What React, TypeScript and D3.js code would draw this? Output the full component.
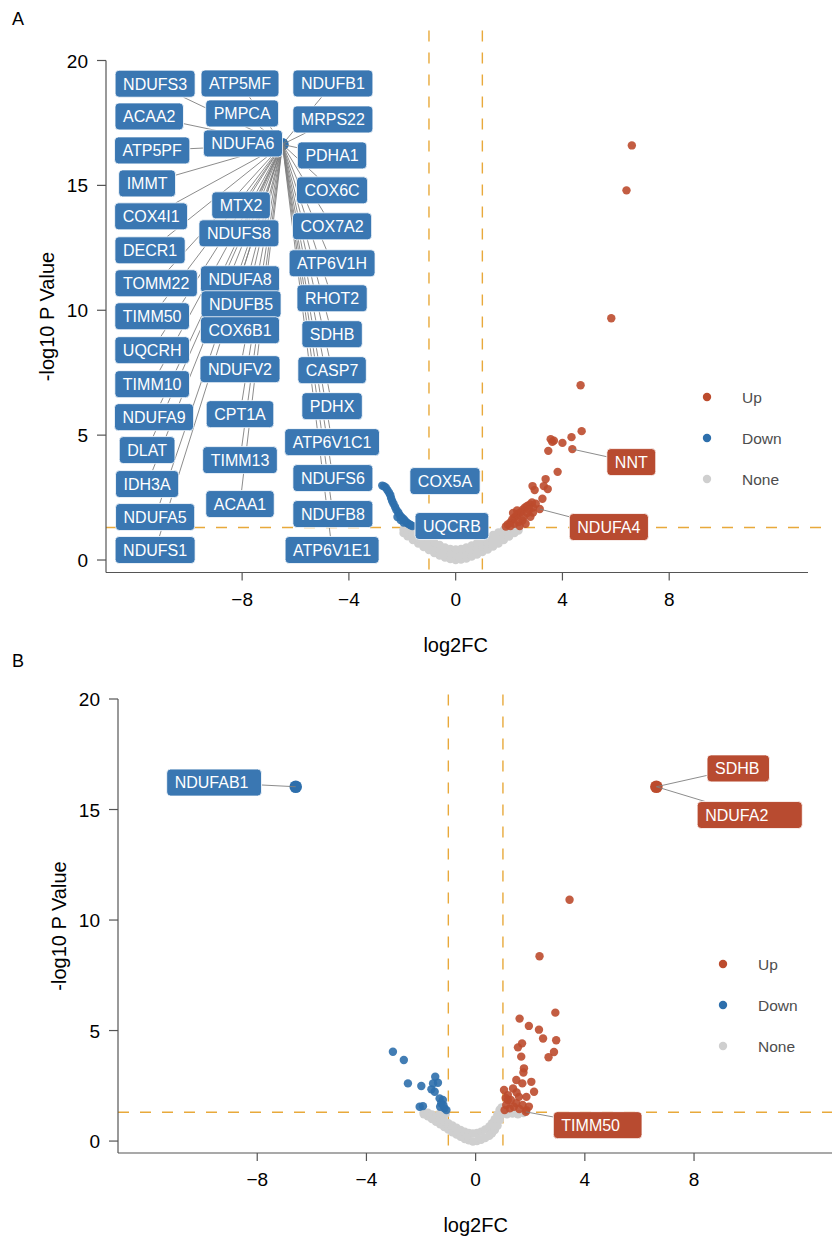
import React from "react";
import * as d3 from "d3";

type Pt = [number, number];

const FONT = "'Liberation Sans', Arial, Helvetica, sans-serif";
const RED = "#BC4B2D";
const BLUE = "#2D6FAC";
const GREY = "#CFCFCF";
const LABEL_BLUE = "#3A77B2";
const LABEL_RED = "#B84B30";
const DASH = "#E8A93B";

const xTicks = [-8, -4, 0, 4, 8];
const yTicks = [0, 5, 10, 15, 20];
const legendItems = ["Up", "Down", "None"];

// ---- panel A values (log2FC, -log10 P) ----
const aNone: Pt[] = [
  [-1.95, 1.08], [-1.95, 1.22], [-1.8, 0.95], [-1.8, 1.1], [-1.8, 1.24],
  [-1.6, 0.8], [-1.6, 0.98], [-1.6, 1.16], [-1.4, 0.66], [-1.4, 0.86], [-1.4, 1.06],
  [-1.2, 0.52], [-1.2, 0.74], [-1.2, 0.96], [-1.0, 0.4], [-1.0, 0.6], [-1.0, 0.82],
  [-0.8, 0.28], [-0.8, 0.48], [-0.8, 0.7], [-0.6, 0.18], [-0.6, 0.38], [-0.6, 0.6],
  [-0.4, 0.1], [-0.4, 0.3], [-0.4, 0.5], [-0.2, 0.04], [-0.2, 0.24], [-0.2, 0.44],
  [0.0, 0.0], [0.0, 0.2], [0.0, 0.42], [0.2, 0.02], [0.2, 0.22], [0.2, 0.44],
  [0.4, 0.06], [0.4, 0.28], [0.4, 0.5], [0.6, 0.14], [0.6, 0.36], [0.6, 0.58],
  [0.8, 0.22], [0.8, 0.44], [0.8, 0.68], [1.0, 0.32], [1.0, 0.55], [1.0, 0.8],
  [1.2, 0.42], [1.2, 0.66], [1.2, 0.9], [1.4, 0.54], [1.4, 0.78], [1.4, 1.0],
  [1.6, 0.66], [1.6, 0.9], [1.6, 1.1], [1.8, 0.8], [1.8, 1.02], [1.8, 1.2],
  [2.0, 0.94], [2.0, 1.12], [2.0, 1.26], [2.2, 1.08], [2.2, 1.22], [2.35, 1.18], [2.35, 1.26],
];
const aDown: Pt[] = [
  [-2.75, 2.98], [-2.68, 2.95], [-2.62, 2.9], [-2.56, 2.8], [-2.5, 2.7], [-2.45, 2.6],
  [-2.42, 2.48], [-2.38, 2.36], [-2.33, 2.25], [-2.27, 2.12], [-2.22, 2.0], [-2.15, 1.9],
  [-2.1, 1.8], [-2.04, 1.72], [-1.98, 1.66], [-1.92, 1.6], [-1.86, 1.52], [-1.8, 1.47],
  [-1.74, 1.43], [-1.68, 1.39], [-1.62, 1.36], [-2.18, 1.72], [-2.06, 1.6], [-1.95, 1.5],
];
const aUp: Pt[] = [
  [6.6, 16.6], [6.4, 14.8], [5.83, 9.68], [4.68, 7.0], [4.72, 5.16], [4.34, 4.92],
  [4.0, 4.69], [3.62, 4.73], [3.56, 4.84], [3.68, 4.78], [3.47, 4.37], [4.37, 4.44],
  [3.82, 3.53], [3.37, 3.24], [3.3, 2.96], [2.88, 2.96], [3.45, 2.84], [3.25, 2.45],
  [2.96, 2.8], [3.15, 2.04], [1.88, 1.34], [1.95, 1.42], [2.05, 1.5], [2.12, 1.62],
  [2.2, 1.7], [2.28, 1.78], [2.35, 1.86], [2.45, 1.92], [2.52, 2.02], [2.6, 2.1],
  [2.68, 2.16], [2.78, 2.22], [2.86, 2.3], [2.2, 1.45], [2.36, 1.52], [2.55, 1.72],
  [2.68, 1.88], [2.05, 1.36], [2.3, 1.98], [2.5, 1.58], [2.9, 2.1], [3.0, 2.25],
  [2.8, 1.73], [2.4, 1.36], [2.62, 1.45], [2.15, 1.88], [2.75, 2.0], [2.9, 1.9],
];
// genes sharing one point in panel A
const aHub: Pt = [-6.49, 16.64];
const aHubGenes = [
  "NDUFS3", "ACAA2", "ATP5PF", "IMMT", "COX4I1", "DECR1", "TOMM22", "TIMM50", "UQCRH",
  "TIMM10", "NDUFA9", "DLAT", "IDH3A", "NDUFA5", "NDUFS1", "ATP5MF", "PMPCA", "NDUFA6",
  "MTX2", "NDUFS8", "NDUFA8", "NDUFB5", "COX6B1", "NDUFV2", "CPT1A", "TIMM13", "ACAA1",
  "NDUFB1", "MRPS22", "PDHA1", "COX6C", "COX7A2", "ATP6V1H", "RHOT2", "SDHB", "CASP7",
  "PDHX", "ATP6V1C1", "NDUFS6", "NDUFB8", "ATP6V1E1",
];
const aOtherLabels: { gene: string; pt: Pt; dir: string }[] = [
  { gene: "COX5A", pt: [-1.92, 1.6], dir: "Down" },
  { gene: "UQCRB", pt: [-1.62, 1.36], dir: "Down" },
  { gene: "NNT", pt: [4.37, 4.44], dir: "Up" },
  { gene: "NDUFA4", pt: [3.15, 2.04], dir: "Up" },
];

// ---- panel B values ----
const bNone: Pt[] = [
  [-1.9, 1.22], [-1.9, 1.3], [-1.75, 1.12], [-1.75, 1.28], [-1.6, 1.0], [-1.6, 1.2],
  [-1.45, 0.88], [-1.45, 1.1], [-1.3, 0.76], [-1.3, 1.0], [-1.15, 0.64], [-1.15, 0.9],
  [-1.0, 0.52], [-1.0, 0.8], [-0.85, 0.4], [-0.85, 0.7], [-0.7, 0.3], [-0.7, 0.6],
  [-0.55, 0.2], [-0.55, 0.5], [-0.4, 0.1], [-0.4, 0.42], [-0.25, 0.04], [-0.25, 0.36],
  [-0.1, -0.02], [-0.1, 0.34], [0.05, 0.0], [0.05, 0.36], [0.2, 0.06], [0.2, 0.42],
  [0.35, 0.14], [0.35, 0.52], [0.5, 0.24], [0.5, 0.66], [0.6, 0.36], [0.6, 0.8],
  [0.7, 0.5], [0.7, 0.98], [0.8, 0.7], [0.8, 1.2], [0.88, 0.95], [0.88, 1.42],
  [0.95, 1.2], [0.95, 1.52], [1.15, 1.22], [1.35, 1.25], [1.55, 1.22], [1.75, 1.27],
  [-1.3, 1.26], [-1.1, 1.24],
];
const bDown: Pt[] = [
  [-3.03, 4.04], [-2.63, 3.67], [-2.48, 2.61], [-1.99, 2.49], [-1.48, 2.91], [-1.38, 2.64],
  [-1.62, 2.34], [-1.5, 2.23], [-1.32, 1.93], [-1.26, 1.71], [-1.14, 1.48], [-1.93, 1.58],
  [-2.05, 1.55], [-1.07, 1.4], [-1.2, 1.86], [-1.56, 2.61], [-1.3, 1.55], [-1.18, 1.62],
];
const bUp: Pt[] = [
  [3.44, 10.92], [2.34, 8.36], [2.92, 5.81], [1.61, 5.54], [1.95, 5.21], [2.32, 5.04],
  [2.47, 4.64], [2.95, 4.56], [1.7, 4.42], [1.55, 4.24], [2.87, 4.03], [1.67, 3.82],
  [2.67, 3.79], [1.77, 3.29], [1.75, 3.1], [1.49, 2.76], [2.04, 2.68], [1.71, 2.61],
  [1.04, 2.31], [1.37, 2.38], [2.14, 2.23], [1.86, 2.0], [1.18, 1.86], [1.49, 1.71],
  [1.95, 1.56], [1.86, 1.4], [1.25, 1.48], [1.12, 1.63], [1.59, 2.0], [1.18, 2.08],
  [1.06, 1.4], [1.29, 1.86], [1.72, 1.63], [1.84, 1.32], [1.4, 1.55], [1.6, 1.45],
  [1.1, 1.95], [1.5, 2.2],
];
const bBigDown: Pt = [-6.59, 16.03];
const bBigUp: Pt = [6.62, 16.03];
const bLabels: { gene: string; pt: Pt; dir: string }[] = [
  { gene: "NDUFAB1", pt: bBigDown, dir: "Down" },
  { gene: "SDHB", pt: bBigUp, dir: "Up" },
  { gene: "NDUFA2", pt: bBigUp, dir: "Up" },
  { gene: "TIMM50", pt: [1.84, 1.32], dir: "Up" },
];

// ---- label placement (repelled positions, data units) + extra box width ----
const placeA: Record<string, [number, number, number?]> = {
  NDUFS3: [-11.26, 19.07], ACAA2: [-11.48, 17.76], ATP5PF: [-11.37, 16.4],
  IMMT: [-11.56, 15.08], COX4I1: [-11.41, 13.76], DECR1: [-11.45, 12.4],
  TOMM22: [-11.22, 11.08], TIMM50: [-11.37, 9.76], UQCRH: [-11.37, 8.4],
  TIMM10: [-11.37, 7.04], NDUFA9: [-11.3, 5.72], DLAT: [-11.56, 4.4],
  IDH3A: [-11.56, 3.04], NDUFA5: [-11.26, 1.72], NDUFS1: [-11.26, 0.4],
  ATP5MF: [-8.08, 19.08], PMPCA: [-8.0, 17.88], NDUFA6: [-7.97, 16.68],
  MTX2: [-8.04, 14.2], NDUFS8: [-8.12, 13.08], NDUFA8: [-8.08, 11.24],
  NDUFB5: [-8.04, 10.24], COX6B1: [-8.08, 9.2], NDUFV2: [-8.08, 7.64],
  CPT1A: [-8.08, 5.84], TIMM13: [-8.08, 4.0], ACAA1: [-8.08, 2.24],
  NDUFB1: [-4.6, 19.08], MRPS22: [-4.6, 17.64], PDHA1: [-4.63, 16.2],
  COX6C: [-4.63, 14.8], COX7A2: [-4.63, 13.36], ATP6V1H: [-4.63, 11.88],
  RHOT2: [-4.63, 10.48], SDHB: [-4.63, 9.04], CASP7: [-4.63, 7.6],
  PDHX: [-4.63, 6.16], ATP6V1C1: [-4.63, 4.72], NDUFS6: [-4.6, 3.28],
  NDUFB8: [-4.6, 1.84], ATP6V1E1: [-4.63, 0.4],
  COX5A: [-0.4, 3.16], UQCRB: [-0.14, 1.36], NNT: [6.58, 3.92], NDUFA4: [5.74, 1.32],
};
const placeB: Record<string, [number, number, number?]> = {
  NDUFAB1: [-9.58, 16.22, 5], SDHB: [9.62, 16.86, 2], NDUFA2: [10.04, 14.75, 26],
  TIMM50: [4.47, 0.72, 14],
};
const noSegment = ["COX5A", "UQCRB"];

let ctx: CanvasRenderingContext2D | null = null;
function textWidth(t: string, size: number) {
  if (!ctx) ctx = document.createElement("canvas").getContext("2d");
  if (!ctx) return t.length * size * 0.6;
  ctx.font = `${size}px 'Liberation Sans', Arial`;
  return ctx.measureText(t).width;
}

const fmt = (d: number) => (d < 0 ? "\u2212" + Math.abs(d) : String(d));

type Lab = { gene: string; pt: Pt; dir: string };

function Panel(props: {
  letter: string;
  letterY: number;
  xRange: [number, number];
  yRange: [number, number];
  yDomain: [number, number];
  yTop: number;
  none: Pt[];
  down: Pt[];
  up: Pt[];
  big: { pt: Pt; dir: string }[];
  labels: Lab[];
  place: Record<string, [number, number, number?]>;
  legend: [number, number];
}) {
  const { xRange, yRange } = props;
  const x = d3.scaleLinear().domain([-13.1, 13.2]).range(xRange);
  const y = d3.scaleLinear().domain(props.yDomain).range(yRange);
  const x0 = xRange[0];
  const yB = yRange[0];
  const yT = yRange[1];
  const fs = 16;
  const h = 27;

  const boxes = props.labels.map((l) => {
    const p = props.place[l.gene];
    const w = textWidth(l.gene, fs) + 16 + (p[2] || 0);
    const cx = x(p[0]);
    const cy = y(p[1]);
    const px = x(l.pt[0]);
    const py = y(l.pt[1]);
    const dx = px - cx;
    const dy = py - cy;
    const t = Math.min(
      dx === 0 ? Infinity : w / 2 / Math.abs(dx),
      dy === 0 ? Infinity : h / 2 / Math.abs(dy)
    );
    const inside = t >= 1;
    return {
      ...l,
      w,
      bx: cx - w / 2,
      by: cy - h / 2,
      ex: cx + dx * Math.min(t, 1),
      ey: cy + dy * Math.min(t, 1),
      px,
      py,
      seg: !inside && !noSegment.includes(l.gene),
    };
  });

  const col = (d: string) => (d === "Up" ? RED : d === "Down" ? BLUE : GREY);

  return (
    <g>
      <text x={12} y={props.letterY} fontSize={18} fontFamily={FONT}>
        {props.letter}
      </text>
      {/* threshold lines */}
      {[-1, 1].map((v) => (
        <line key={v} x1={x(v)} x2={x(v)} y1={y(props.yTop)} y2={yB}
          stroke={DASH} strokeWidth={1.4} strokeDasharray="11,11" />
      ))}
      <line x1={x0} x2={832} y1={y(-Math.log10(0.05))} y2={y(-Math.log10(0.05))}
        stroke={DASH} strokeWidth={1.4} strokeDasharray="11,11" />
      {/* points */}
      {props.none.map((d, i) => (
        <circle key={"n" + i} cx={x(d[0])} cy={y(d[1])} r={4.3} fill={GREY} />
      ))}
      {props.down.map((d, i) => (
        <circle key={"d" + i} cx={x(d[0])} cy={y(d[1])} r={4.2} fill={BLUE} opacity={0.9} />
      ))}
      {props.up.map((d, i) => (
        <circle key={"u" + i} cx={x(d[0])} cy={y(d[1])} r={4.2} fill={RED} opacity={0.9} />
      ))}
      {props.big.map((b, i) => (
        <circle key={"b" + i} cx={x(b.pt[0])} cy={y(b.pt[1])} r={6.3} fill={col(b.dir)} />
      ))}
      {/* axes */}
      <line x1={x0} x2={xRange[1]} y1={yB} y2={yB} stroke="#555" strokeWidth={1.2} />
      <line x1={x0} x2={x0} y1={yB} y2={y(20)} stroke="#555" strokeWidth={1.2} />
      {xTicks.map((t) => (
        <g key={"xt" + t}>
          <line x1={x(t)} x2={x(t)} y1={yB} y2={yB + 8} stroke="#555" strokeWidth={1.2} />
          <text x={x(t)} y={yB + 33} textAnchor="middle" fontSize={19} fontFamily={FONT}>
            {fmt(t)}
          </text>
        </g>
      ))}
      {yTicks.map((t) => (
        <g key={"yt" + t}>
          <line x1={x0 - 9} x2={x0} y1={y(t)} y2={y(t)} stroke="#555" strokeWidth={1.2} />
          <text x={x0 - 18} y={y(t) + 7} textAnchor="end" fontSize={19} fontFamily={FONT}>
            {t}
          </text>
        </g>
      ))}
      <text x={x(0)} y={yB + 79} textAnchor="middle" fontSize={20} fontFamily={FONT}>
        log2FC
      </text>
      <text transform={`translate(${x0 - 59},${(yB + y(20)) / 2}) rotate(-90)`}
        dy="0.35em" textAnchor="middle" fontSize={20} fontFamily={FONT}>
        -log10 P Value
      </text>
      {/* legend */}
      {legendItems.map((k, i) => (
        <g key={k} transform={`translate(${props.legend[0]},${props.legend[1] + i * 41})`}>
          <circle r={4.2} fill={col(k)} />
          <text x={35} y={5.5} fontSize={15.5} fontFamily={FONT} fill="#4D4D4D">{k}</text>
        </g>
      ))}
      {/* label segments and boxes */}
      {boxes.filter((b) => b.seg).map((b, i) => (
        <line key={"s" + i} x1={b.px} y1={b.py} x2={b.ex} y2={b.ey} stroke="#7F7F7F" strokeWidth={0.9} />
      ))}
      {boxes.map((b, i) => (
        <g key={"l" + i}>
          <rect x={b.bx} y={b.by} width={b.w} height={h} rx={4}
            fill={b.dir === "Up" ? LABEL_RED : LABEL_BLUE} stroke="#ffffff" strokeWidth={0.8} />
          <text x={b.bx + 8} y={b.by + h / 2 + 5.8} fontSize={fs} fontFamily={FONT} fill="#fff">
            {b.gene}
          </text>
        </g>
      ))}
    </g>
  );
}

export default function App() {
  const aLabels: Lab[] = [
    ...aHubGenes.map((g) => ({ gene: g, pt: aHub, dir: "Down" })),
    ...aOtherLabels,
  ];
  return (
    <svg width={832} height={1239} style={{ position: "absolute", left: 0, top: 0, background: "#fff" }}>
      <Panel
        letter="A" letterY={25}
        xRange={[106, 808]} yRange={[572.5, 60.5]} yDomain={[-0.5, 20]} yTop={21.2}
        none={aNone} down={aDown} up={aUp}
        big={[{ pt: aHub, dir: "Down" }]}
        labels={aLabels} place={placeA} legend={[707, 397]}
      />
      <Panel
        letter="B" letterY={667}
        xRange={[118, 836]} yRange={[1153, 699]} yDomain={[-0.54, 20]} yTop={20.2}
        none={bNone} down={bDown} up={bUp}
        big={[{ pt: bBigDown, dir: "Down" }, { pt: bBigUp, dir: "Up" }]}
        labels={bLabels} place={placeB} legend={[723, 964]}
      />
    </svg>
  );
}
